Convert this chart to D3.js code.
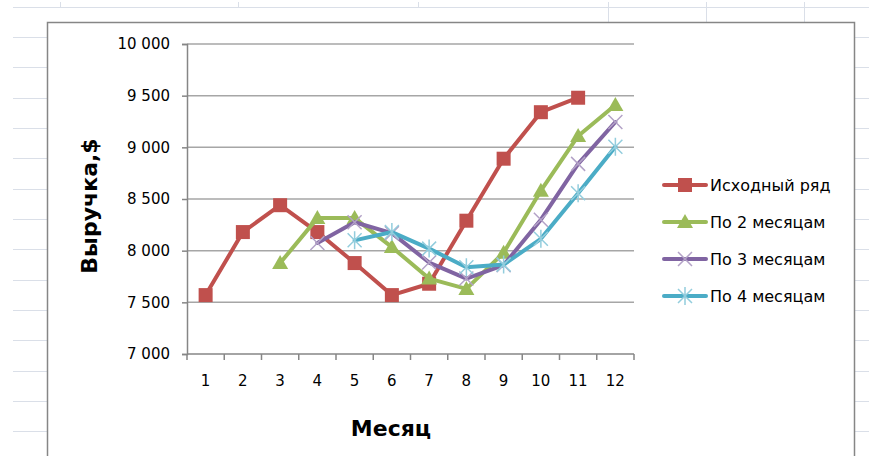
<!DOCTYPE html>
<html>
<head>
<meta charset="utf-8">
<script src="https://cdn.jsdelivr.net/npm/d3@7"></script>
<style>
  html, body { margin: 0; padding: 0; background: #ffffff; }
  svg { display: block; }
</style>
</head>
<body>
<svg id="chart" width="869" height="456"></svg>
<script>
// Monthly revenue and its moving averages
const months = [1, 2, 3, 4, 5, 6, 7, 8, 9, 10, 11, 12];
const sourceSeries = [7570, 8180, 8440, 8180, 7880, 7570, 7680, 8290, 8890, 9340, 9480, null];
const avg2Series   = [null, null, 7880, 8315, 8315, 8035, 7730, 7630, 7980, 8580, 9110, 9410];
const avg3Series   = [null, null, null, 8075, 8275, 8170, 7885, 7730, 7860, 8300, 8840, 9245];
const avg4Series   = [null, null, null, null, 8100, 8180, 8020, 7840, 7865, 8115, 8555, 9005];
const seriesNames  = ["Исходный ряд", "По 2 месяцам", "По 3 месяцам", "По 4 месяцам"];
const yTicks = [7000, 7500, 8000, 8500, 9000, 9500, 10000];
const xTitle = "Месяц";
const yTitle = "Выручка,$";

const series = [
  { name: seriesNames[0], values: sourceSeries, color: "#c0504d", marker: "square",   markColor: "#c0504d" },
  { name: seriesNames[1], values: avg2Series,   color: "#9bbb59", marker: "triangle", markColor: "#9bbb59" },
  { name: seriesNames[2], values: avg3Series,   color: "#8064a2", marker: "cross",    markColor: "#b3a2c7" },
  { name: seriesNames[3], values: avg4Series,   color: "#4bacc6", marker: "star",     markColor: "#93cddd" }
];

const svg = d3.select("#chart");

// worksheet cell grid behind the chart object
const sheet = svg.append("g").attr("stroke", "#dadfe8").attr("stroke-width", 1);
d3.range(0, 15).forEach(k => {
  const y = Math.round(6.7 + 30.33 * k) + 0.5;
  sheet.append("line").attr("x1", 13).attr("x2", 869).attr("y1", y).attr("y2", y);
});
[[60, 7], [238, 7], [418, 7], [608, 23], [706, 23], [804, 23]].forEach(([x, y2]) => {
  sheet.append("line").attr("x1", x + 0.5).attr("x2", x + 0.5).attr("y1", 2).attr("y2", y2);
});

// chart object frame
svg.append("rect")
  .attr("x", 47.5).attr("y", 22.5).attr("width", 807).attr("height", 450)
  .attr("fill", "#ffffff").attr("stroke", "#868686").attr("stroke-width", 1.5);

const plot = { left: 187, right: 634, top: 44, bottom: 354 };

const x = d3.scaleBand().domain(months).range([plot.left, plot.right]).padding(0);
const y = d3.scaleLinear().domain([7000, 10000]).range([plot.bottom, plot.top]);
const cx = m => x(m) + x.bandwidth() / 2;

// horizontal gridlines
svg.append("g")
  .selectAll("line").data(yTicks.filter(t => t !== 7000)).join("line")
  .attr("x1", plot.left).attr("x2", plot.right)
  .attr("y1", d => y(d)).attr("y2", d => y(d))
  .attr("stroke", "#a6a6a6").attr("stroke-width", 1.5);

// value axis
const fmt = v => d3.format(",")(v).replace(/,/g, "\u00a0");
const yAxis = svg.append("g")
  .attr("transform", `translate(${plot.left},0)`)
  .call(d3.axisLeft(y).tickValues(yTicks).tickSize(5).tickPadding(12).tickFormat(fmt));
yAxis.select(".domain").attr("stroke", "#868686").attr("stroke-width", 1.5);
yAxis.selectAll(".tick line").attr("stroke", "#868686").attr("stroke-width", 1.5);
yAxis.selectAll("text")
  .attr("font-family", "DejaVu Sans").attr("font-size", 15).attr("fill", "#000");

// category axis with ticks on the band boundaries
const xAxisG = svg.append("g").attr("transform", `translate(0,${plot.bottom})`);
xAxisG.append("line")
  .attr("x1", plot.left).attr("x2", plot.right).attr("y1", 0).attr("y2", 0)
  .attr("stroke", "#868686").attr("stroke-width", 1.5);
xAxisG.selectAll("line.tk").data(d3.range(0, months.length + 1)).join("line")
  .attr("class", "tk")
  .attr("x1", i => plot.left + i * x.bandwidth()).attr("x2", i => plot.left + i * x.bandwidth())
  .attr("y1", 0).attr("y2", 6)
  .attr("stroke", "#868686").attr("stroke-width", 1.5);
xAxisG.selectAll("text").data(months).join("text")
  .attr("x", d => cx(d)).attr("y", 32)
  .attr("text-anchor", "middle")
  .attr("font-family", "DejaVu Sans").attr("font-size", 15).attr("fill", "#000")
  .text(d => d);

// axis titles
svg.append("text")
  .attr("x", 391).attr("y", 436)
  .attr("text-anchor", "middle")
  .attr("font-family", "DejaVu Sans").attr("font-weight", "bold").attr("font-size", 22)
  .attr("fill", "#000").text(xTitle);
svg.append("text")
  .attr("transform", "translate(97,206) rotate(-90)")
  .attr("text-anchor", "middle")
  .attr("font-family", "DejaVu Sans").attr("font-weight", "bold").attr("font-size", 22)
  .attr("fill", "#000").text(yTitle);

// marker drawing
function drawMarker(g, type, color, px, py) {
  if (type === "square") {
    g.append("rect").attr("x", px - 7).attr("y", py - 7).attr("width", 14).attr("height", 14)
      .attr("fill", color);
  } else if (type === "triangle") {
    g.append("path")
      .attr("d", `M${px},${py - 8}L${px + 8},${py + 6}L${px - 8},${py + 6}Z`)
      .attr("fill", color);
  } else if (type === "cross") {
    g.append("path")
      .attr("d", `M${px - 7},${py - 7}L${px + 7},${py + 7}M${px - 7},${py + 7}L${px + 7},${py - 7}`)
      .attr("stroke", color).attr("stroke-width", 1.5).attr("fill", "none");
  } else if (type === "star") {
    g.append("path")
      .attr("d", `M${px - 7},${py - 7}L${px + 7},${py + 7}M${px - 7},${py + 7}L${px + 7},${py - 7}M${px},${py - 9}L${px},${py + 9}`)
      .attr("stroke", color).attr("stroke-width", 1.5).attr("fill", "none");
  }
}

// series lines and markers
const line = d3.line()
  .defined(d => d.v !== null)
  .x(d => cx(d.m))
  .y(d => y(d.v));

series.forEach(s => {
  const pts = months.map((m, i) => ({ m, v: s.values[i] }));
  const g = svg.append("g");
  g.append("path")
    .datum(pts)
    .attr("d", line)
    .attr("fill", "none")
    .attr("stroke", s.color)
    .attr("stroke-width", 4)
    .attr("stroke-linejoin", "round")
    .attr("stroke-linecap", "round");
  pts.filter(p => p.v !== null).forEach(p => drawMarker(g, s.marker, s.markColor, cx(p.m), y(p.v)));
});

// legend
const legend = svg.append("g");
series.forEach((s, i) => {
  const ly = 185 + i * 37;
  const g = legend.append("g");
  g.append("line")
    .attr("x1", 664).attr("x2", 706).attr("y1", ly).attr("y2", ly)
    .attr("stroke", s.color).attr("stroke-width", 4).attr("stroke-linecap", "round");
  drawMarker(g, s.marker, s.markColor, 685, ly);
  g.append("text")
    .attr("x", 710).attr("y", ly).attr("dy", "0.36em")
    .attr("font-family", "DejaVu Sans").attr("font-size", 16).attr("fill", "#000")
    .text(s.name);
});
</script>
</body>
</html>
